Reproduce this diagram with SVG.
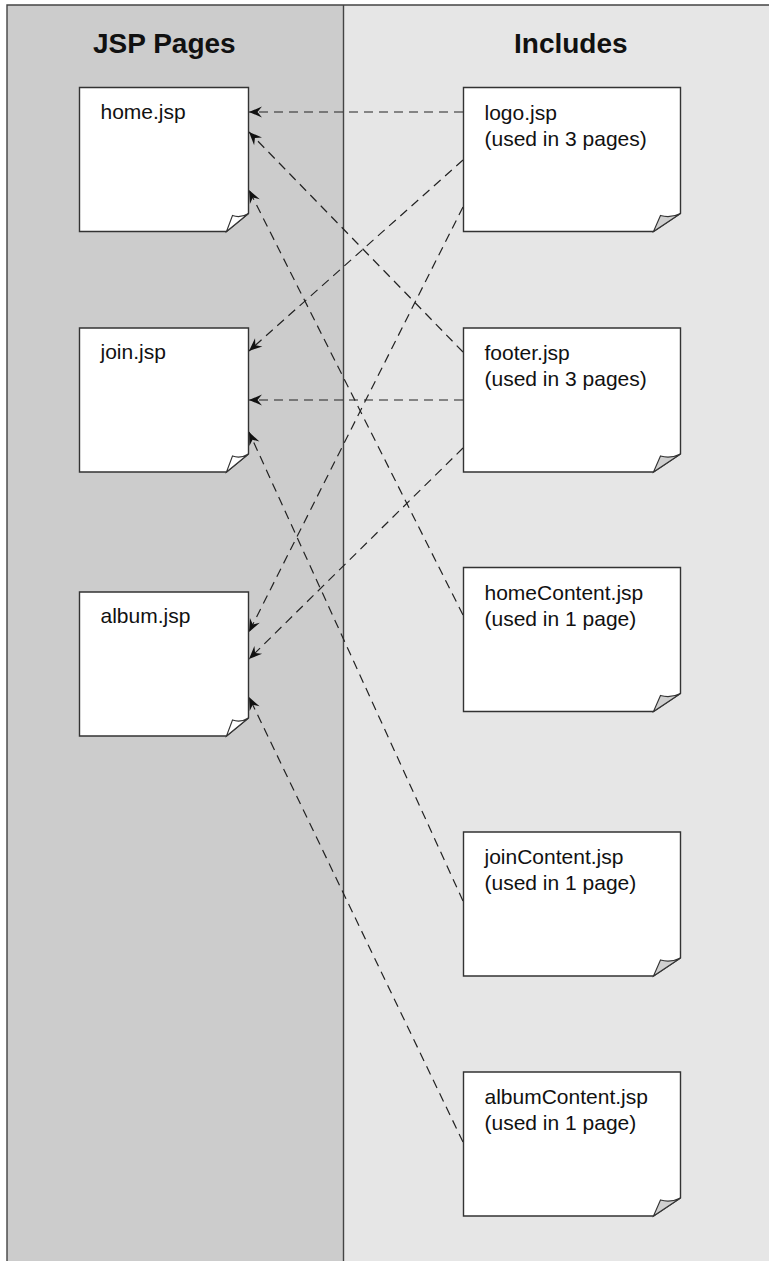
<svg xmlns="http://www.w3.org/2000/svg" width="769" height="1261" viewBox="0 0 769 1261">
<style>
.hdr{font-family:"Liberation Sans",Arial,sans-serif;font-weight:bold;font-size:28px;fill:#111}
.lbl{font-family:"Liberation Sans",Arial,sans-serif;font-size:21px;fill:#111}
.box{fill:#fff;stroke:#333;stroke-width:1.4;stroke-linejoin:miter}
.foldR{fill:#cfcfcf;stroke:#333;stroke-width:1.1}
.foldL{fill:#fff;stroke:#333;stroke-width:1.1}
.frame{stroke:#444;stroke-width:1.4;fill:none}
.conn{stroke:#222;stroke-width:1.2;fill:none;stroke-dasharray:9 6;marker-end:url(#arr)}
</style>
<defs>
<marker id="arr" markerUnits="userSpaceOnUse" viewBox="-14 -7 15 14" refX="0" refY="0" markerWidth="15" markerHeight="14" orient="auto">
<path d="M0,0 L-13,-5.5 L-8.5,0 L-13,5.5 Z" fill="#111"/>
</marker>
</defs>
<g id="background">
<rect x="7" y="5" width="336.5" height="1256" fill="#cccccc"/>
<rect x="343.5" y="5" width="425.5" height="1256" fill="#e6e6e6"/>
<path class="frame" d="M7,1261 V5 H769"/>
<path class="frame" d="M343.5,5 V1261"/>
</g>
<g id="headers">
<text class="hdr" x="93" y="53">JSP Pages</text>
<text class="hdr" x="514" y="53">Includes</text>
</g>
<g id="connectors">
<line class="conn" x1="463" y1="112" x2="249" y2="112"/>
<line class="conn" x1="463" y1="352" x2="249" y2="132"/>
<line class="conn" x1="463" y1="615" x2="249" y2="190"/>
<line class="conn" x1="463" y1="160" x2="249" y2="351"/>
<line class="conn" x1="463" y1="400" x2="249" y2="400"/>
<line class="conn" x1="463" y1="901" x2="249" y2="432"/>
<line class="conn" x1="463" y1="207" x2="249" y2="632"/>
<line class="conn" x1="463" y1="448" x2="249" y2="659"/>
<line class="conn" x1="463" y1="1142" x2="249" y2="697"/>
</g>
<g id="home" transform="translate(79.5,87.5)">
<path class="box" d="M0,0 H169 V126 L147,144 H0 Z"/>
<path class="foldL" d="M147,144 L153,128 Q161,131 169,126 Z"/>
<text class="lbl" x="21" y="31">home.jsp</text>
</g>
<g id="join" transform="translate(79.5,328)">
<path class="box" d="M0,0 H169 V126 L147,144 H0 Z"/>
<path class="foldL" d="M147,144 L153,128 Q161,131 169,126 Z"/>
<text class="lbl" x="21" y="31">join.jsp</text>
</g>
<g id="album" transform="translate(79.5,592)">
<path class="box" d="M0,0 H169 V126 L147,144 H0 Z"/>
<path class="foldL" d="M147,144 L153,128 Q161,131 169,126 Z"/>
<text class="lbl" x="21" y="31">album.jsp</text>
</g>
<g id="logo" transform="translate(463.5,87.5)">
<path class="box" d="M0,0 H217 V126 L190,144 H0 Z"/>
<path class="foldR" d="M190,144 L197,128 Q207,131 217,126 Z"/>
<text class="lbl" x="21" y="32">logo.jsp</text>
<text class="lbl" x="21" y="58">(used in 3 pages)</text>
</g>
<g id="footer" transform="translate(463.5,328)">
<path class="box" d="M0,0 H217 V126 L190,144 H0 Z"/>
<path class="foldR" d="M190,144 L197,128 Q207,131 217,126 Z"/>
<text class="lbl" x="21" y="32">footer.jsp</text>
<text class="lbl" x="21" y="58">(used in 3 pages)</text>
</g>
<g id="homeContent" transform="translate(463.5,567.5)">
<path class="box" d="M0,0 H217 V126 L190,144 H0 Z"/>
<path class="foldR" d="M190,144 L197,128 Q207,131 217,126 Z"/>
<text class="lbl" x="21" y="32">homeContent.jsp</text>
<text class="lbl" x="21" y="58">(used in 1 page)</text>
</g>
<g id="joinContent" transform="translate(463.5,832)">
<path class="box" d="M0,0 H217 V126 L190,144 H0 Z"/>
<path class="foldR" d="M190,144 L197,128 Q207,131 217,126 Z"/>
<text class="lbl" x="21" y="32">joinContent.jsp</text>
<text class="lbl" x="21" y="58">(used in 1 page)</text>
</g>
<g id="albumContent" transform="translate(463.5,1072)">
<path class="box" d="M0,0 H217 V126 L190,144 H0 Z"/>
<path class="foldR" d="M190,144 L197,128 Q207,131 217,126 Z"/>
<text class="lbl" x="21" y="32">albumContent.jsp</text>
<text class="lbl" x="21" y="58">(used in 1 page)</text>
</g>
</svg>
